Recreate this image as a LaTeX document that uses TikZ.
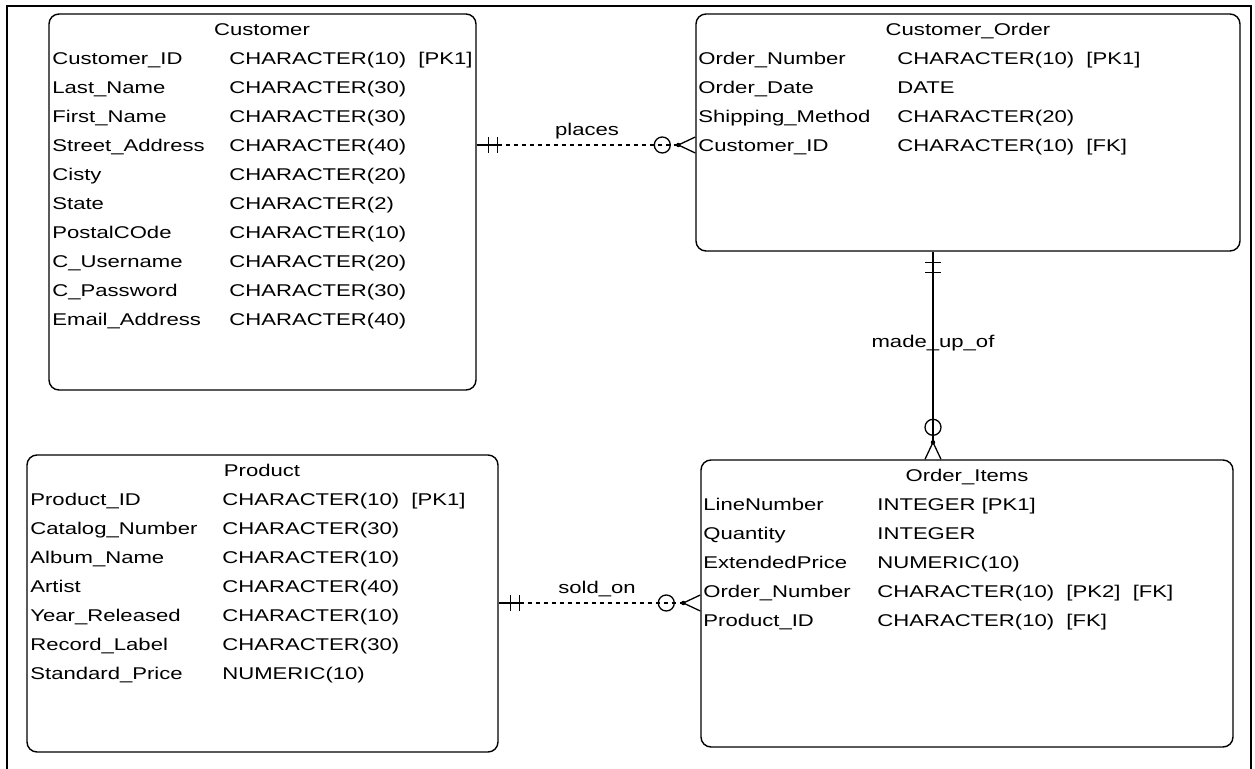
\documentclass[tikz,border=0pt]{standalone}
\usepackage{fontspec}
\setmainfont{Liberation Sans}[FakeStretch=1.3]
\usetikzlibrary{calc,fit}

\tikzset{
  entity/.style={draw,line width=0.7pt,rounded corners=5pt,inner sep=0pt},
  attr/.style={anchor=west,inner sep=0pt,text height=6pt,text depth=1.7pt},
  ttl/.style={inner sep=0pt,text height=6pt,text depth=1.7pt},
  rel/.style={line width=0.65pt},
  reldash/.style={rel,dash pattern=on 2pt off 2pt},
}

\begin{document}
\begin{tikzpicture}[x=0.5pt,y=-0.5pt,font=\fontsize{8.5}{10}\selectfont]
  \useasboundingbox (0,0) rectangle (1255,769);
  % outer frame (open at the bottom)
  \draw[line width=1pt] (7,769) -- (7,6) -- (1251,6) -- (1251,769);

  % Entity boxes
  \node[entity,fit={(49,14)(476,390)}]   (cust)  {};
  \node[entity,fit={(696,14)(1240,251)}] (ord)   {};
  \node[entity,fit={(27,455)(498,752)}]  (prod)  {};
  \node[entity,fit={(701,460)(1233,747)}] (items) {};

  % Customer
  \node[ttl] (cust-title) at (262,31) {Customer};
  \foreach \nm/\ty [count=\i] in {Customer\_ID/CHARACTER(10)\ \ [PK1],
      Last\_Name/CHARACTER(30), First\_Name/CHARACTER(30),
      Street\_Address/CHARACTER(40), Cisty/CHARACTER(20), State/CHARACTER(2),
      PostalCOde/CHARACTER(10), C\_Username/CHARACTER(20),
      C\_Password/CHARACTER(30), Email\_Address/CHARACTER(40)}
     {\node[attr] (cust-n\i) at (52,31+\i*29) {\nm};
      \node[attr] (cust-t\i) at (229,31+\i*29) {\ty};}

  % Customer_Order
  \node[ttl] (ord-title) at (968,31) {Customer\_Order};
  \foreach \nm/\ty [count=\i] in {Order\_Number/CHARACTER(10)\ \ [PK1],
      Order\_Date/DATE, Shipping\_Method/CHARACTER(20),
      Customer\_ID/CHARACTER(10)\ \ [FK]}
     {\node[attr] (ord-n\i) at (698,31+\i*29) {\nm};
      \node[attr] (ord-t\i) at (897,31+\i*29) {\ty};}

  % Product
  \node[ttl] (prod-title) at (262,472) {Product};
  \foreach \nm/\ty [count=\i] in {Product\_ID/CHARACTER(10)\ \ [PK1],
      Catalog\_Number/CHARACTER(30), Album\_Name/CHARACTER(10),
      Artist/CHARACTER(40), Year\_Released/CHARACTER(10),
      Record\_Label/CHARACTER(30), Standard\_Price/NUMERIC(10)}
     {\node[attr] (prod-n\i) at (30,472+\i*29) {\nm};
      \node[attr] (prod-t\i) at (222,472+\i*29) {\ty};}

  % Order_Items
  \node[ttl] (items-title) at (967,477) {Order\_Items};
  \foreach \nm/\ty [count=\i] in {LineNumber/INTEGER [PK1], Quantity/INTEGER,
      ExtendedPrice/NUMERIC(10), Order\_Number/CHARACTER(10)\ \ [PK2]\ \ [FK],
      Product\_ID/CHARACTER(10)\ \ [FK]}
     {\node[attr] (items-n\i) at (703,477+\i*29) {\nm};
      \node[attr] (items-t\i) at (877,477+\i*29) {\ty};}

  % places: Customer -> Customer_Order
  \coordinate (pl-a) at (cust.east |- 0,145);
  \coordinate (pl-b) at (ord.west |- 0,145);
  \coordinate (pl-tip) at ($(pl-b)+(-17,0)$);
  \draw[rel] (pl-a) -- ($(pl-a)+(21,0)$)
     ($(pl-a)+(12,-8)$) -- ($(pl-a)+(12,8)$)
     ($(pl-a)+(21,-8)$) -- ($(pl-a)+(21,8)$);
  \draw[reldash] ($(pl-a)+(21,0)$) -- (pl-tip);
  \draw[rel] ($(pl-b)+(-33,0)$) circle (4pt);
  \draw[rel] ($(pl-b)+(0,-8)$) -- (pl-tip) -- ($(pl-b)+(0,8)$);
  \fill (pl-tip) circle (1.1pt);
  \node[ttl] (pl-lbl) at (587,131) {places};

  % made_up_of: Customer_Order -> Order_Items
  \coordinate (mu-a) at (ord.south -| 933,0);
  \coordinate (mu-b) at (items.north -| 933,0);
  \coordinate (mu-tip) at ($(mu-b)+(0,-17)$);
  \draw[rel] (mu-a) -- (mu-tip);
  \draw[rel] ($(mu-a)+(-8,11)$) -- ($(mu-a)+(8,11)$)
     ($(mu-a)+(-8,21)$) -- ($(mu-a)+(8,21)$);
  \draw[rel] ($(mu-b)+(0,-32)$) circle (4pt);
  \draw[rel] ($(mu-b)+(-8,0)$) -- (mu-tip) -- ($(mu-b)+(8,0)$);
  \fill (mu-tip) circle (1.1pt);
  \node[ttl] (mu-lbl) at (933,343) {made\_up\_of};

  % sold_on: Product -> Order_Items
  \coordinate (so-a) at (prod.east |- 0,603);
  \coordinate (so-b) at (items.west |- 0,603);
  \coordinate (so-tip) at ($(so-b)+(-17,0)$);
  \draw[rel] (so-a) -- ($(so-a)+(21,0)$)
     ($(so-a)+(12,-8)$) -- ($(so-a)+(12,8)$)
     ($(so-a)+(21,-8)$) -- ($(so-a)+(21,8)$);
  \draw[reldash] ($(so-a)+(21,0)$) -- (so-tip);
  \draw[rel] ($(so-b)+(-34,0)$) circle (4pt);
  \draw[rel] ($(so-b)+(0,-8)$) -- (so-tip) -- ($(so-b)+(0,8)$);
  \fill (so-tip) circle (1.1pt);
  \node[ttl] (so-lbl) at (597,589) {sold\_on};
\end{tikzpicture}
\end{document}
